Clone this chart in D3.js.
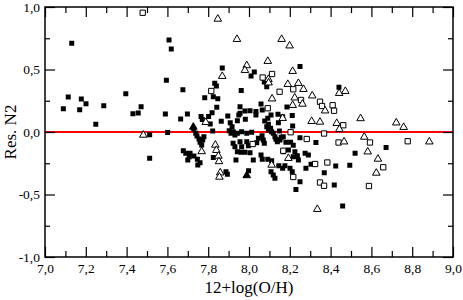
<!DOCTYPE html>
<html>
<head>
<meta charset="utf-8">
<script src="https://cdn.jsdelivr.net/npm/d3@7"></script>
<style>
  body { margin: 0; background: #fff; }
  svg { display: block; font-family: "Liberation Serif", "Times New Roman", serif; }
</style>
</head>
<body>
<svg width="463" height="300"></svg>
<script>
// tick values and labels
const xMajor = [7.0, 7.2, 7.4, 7.6, 7.8, 8.0, 8.2, 8.4, 8.6, 8.8, 9.0];
const xMinor = [7.1, 7.3, 7.5, 7.7, 7.9, 8.1, 8.3, 8.5, 8.7, 8.9];
const xTickLabels = ["7,0", "7,2", "7,4", "7,6", "7,8", "8,0", "8,2", "8,4", "8,6", "8,8", "9,0"];
const yMajor = [-1.0, -0.5, 0.0, 0.5, 1.0];
const yMinor = [-0.75, -0.25, 0.25, 0.75];
const yTickLabels = ["-1,0", "-0,5", "0,0", "0,5", "1,0"];

// [12+log(O/H), Res. N2]
const filledSquares = [
  [7.131,0.710],[7.114,0.280],[7.090,0.186],[7.178,0.264],[7.170,0.178],[7.201,0.226],[7.249,0.062],
  [7.288,0.210],[7.396,0.306],[7.431,0.146],[7.457,0.152],[7.471,0.202],[7.513,-0.022],[7.513,-0.210],
  [7.608,0.736],[7.619,0.664],[7.869,0.512],[7.595,0.414],[7.676,0.338],[7.832,0.390],[7.840,0.368],
  [7.783,0.274],[7.825,0.282],[7.847,0.266],[8.026,0.480],[8.010,0.448],[8.250,0.524],[8.075,0.400],
  [8.087,0.362],[7.962,0.332],[8.441,0.358],[7.842,0.198],[7.819,0.154],[7.590,0.144],[7.665,0.104],
  [7.698,0.144],[7.765,0.124],[7.771,0.100],[7.802,0.124],[7.810,0.064],[7.864,0.086],[7.896,0.128],
  [7.908,0.074],[7.917,0.042],[7.943,0.090],[7.956,0.202],[7.950,0.136],[7.980,0.168],[8.005,0.170],
  [8.034,0.164],[8.059,0.224],[8.065,0.176],[8.034,0.136],[8.108,0.136],[8.092,0.110],[8.142,0.142],
  [8.165,0.122],[8.212,0.132],[8.186,0.200],[8.077,0.088],[8.095,0.062],[8.144,0.074],[8.214,0.048],
  [7.982,0.102],[7.601,-0.004],[7.956,0.150],[7.729,0.022],[7.739,-0.010],[7.745,-0.032],[7.755,-0.056],
  [7.760,-0.082],[7.768,-0.104],[7.773,-0.064],[7.779,-0.038],[7.822,0.008],[7.903,0.010],[7.943,-0.010],
  [7.964,0.002],[7.989,-0.010],[8.013,-0.002],[8.087,0.042],[8.095,0.016],[8.106,0.030],[8.111,0.002],
  [8.119,-0.010],[8.127,-0.038],[8.132,-0.058],[8.139,-0.078],[8.152,-0.064],[8.158,-0.042],[8.149,0.008],
  [8.168,-0.038],[8.181,-0.082],[8.204,-0.082],[8.217,-0.106],[8.064,-0.030],[8.070,-0.064],[8.075,-0.090],
  [7.956,-0.078],[7.989,-0.078],[7.997,-0.110],[8.038,-0.086],[8.046,-0.050],[8.250,-0.046],[8.328,-0.084],
  [8.193,-0.144],[8.225,-0.158],[8.237,-0.190],[8.275,-0.170],[8.291,-0.184],[7.961,-0.162],[7.980,-0.162],
  [8.059,-0.184],[8.065,-0.218],[8.092,-0.218],[8.021,-0.224],[8.111,-0.230],[8.146,-0.270],[8.165,-0.290],
  [8.176,-0.270],[8.201,-0.290],[8.212,-0.318],[8.250,-0.398],[8.230,-0.460],[8.304,-0.258],[8.279,-0.290],
  [8.369,-0.326],[7.998,-0.310],[8.108,-0.318],[8.119,-0.344],[8.127,-0.370],[7.678,-0.150],[7.690,-0.170],
  [7.711,-0.170],[7.707,-0.198],[7.700,-0.224],[7.730,-0.192],[7.747,-0.218],[7.760,-0.246],[7.749,-0.264],
  [7.825,-0.204],[7.887,-0.318],[7.894,-0.338],[7.922,-0.090],[7.931,-0.118],[7.943,-0.158],[7.936,-0.224],
  [7.964,-0.118],[8.005,-0.166],[8.168,-0.158],[8.217,-0.198],[8.242,-0.224],[8.520,-0.170],[8.672,-0.124],
  [8.425,-0.272],[8.494,-0.266],[8.418,-0.424],[8.459,-0.592],[7.912,-0.010],[7.923,0.002],[7.931,-0.024]
];

const openSquares = [
  [7.479,0.954],[7.815,0.328],[8.067,0.436],[8.113,0.464],[8.150,0.322],[8.217,0.342],[8.255,0.256],
  [8.092,0.190],[8.348,0.242],[8.358,0.208],[8.410,0.214],[8.417,0.170],[8.462,0.054],[8.368,-0.012],
  [8.283,-0.056],[8.439,-0.084],[8.593,-0.084],[8.778,-0.074],[8.204,-0.002],[8.018,-0.096],[8.168,-0.150],
  [8.217,-0.360],[8.324,-0.256],[8.384,-0.244],[8.658,-0.282],[8.588,-0.432],[8.348,-0.404],[8.368,-0.430]
];

const openTriangles = [
  [7.482,-0.024],[7.847,0.904],[7.941,0.742],[8.160,0.742],[8.199,0.690],[8.092,0.566],[7.989,0.532],
  [7.980,0.494],[8.214,0.486],[7.869,0.446],[8.095,0.422],[8.096,0.394],[8.190,0.382],[8.242,0.390],
  [8.267,0.342],[8.113,0.266],[8.224,0.274],[8.262,0.224],[8.214,0.214],[8.310,0.290],[8.373,0.170],
  [8.442,0.310],[8.472,0.326],[8.307,0.086],[8.348,0.080],[8.430,0.070],[8.443,0.022],[8.547,0.108],
  [8.722,0.074],[8.758,0.038],[8.165,0.110],[7.788,0.078],[8.466,-0.078],[8.565,-0.040],[8.884,-0.078],
  [8.582,-0.158],[8.632,-0.216],[8.624,-0.328],[8.335,-0.618],[7.768,-0.156],[7.835,-0.104],[7.840,-0.146],
  [7.850,-0.192],[7.853,-0.236],[7.859,-0.326],[7.855,-0.360],[8.193,-0.210],[8.111,-0.264]
];

const filledTriangles = [[7.727,0.040],[7.989,-0.348]];

const svg = d3.select("svg");
const margin = {top: 7, right: 10, bottom: 43, left: 45};
const W = 463 - margin.left - margin.right;
const H = 300 - margin.top - margin.bottom;
const g = svg.append("g").attr("transform", `translate(${margin.left},${margin.top})`);

const x = d3.scaleLinear().domain([7, 9]).range([0, W]);
const y = d3.scaleLinear().domain([-1, 1]).range([H, 0]);

// zero line
g.append("line")
  .attr("x1", 0).attr("x2", W)
  .attr("y1", y(0)).attr("y2", y(0))
  .attr("stroke", "#ff0000").attr("stroke-width", 2);

// points
const sq = d3.symbol().type(d3.symbolSquare);
const tri = d3.symbol().type(d3.symbolTriangle);

g.selectAll(".fs").data(filledSquares).enter().append("path")
  .attr("class", "fs")
  .attr("d", sq.size(25)())
  .attr("transform", d => `translate(${x(d[0])},${y(d[1])})`)
  .attr("fill", "#000");

g.selectAll(".os").data(openSquares).enter().append("path")
  .attr("class", "os")
  .attr("d", sq.size(28)())
  .attr("transform", d => `translate(${x(d[0])},${y(d[1])})`)
  .attr("fill", "#fff").attr("stroke", "#000").attr("stroke-width", 1);

g.selectAll(".ot").data(openTriangles).enter().append("path")
  .attr("class", "ot")
  .attr("d", tri.size(25)())
  .attr("transform", d => `translate(${x(d[0])},${y(d[1])})`)
  .attr("fill", "#fff").attr("stroke", "#000").attr("stroke-width", 1);

g.selectAll(".ft").data(filledTriangles).enter().append("path")
  .attr("class", "ft")
  .attr("d", tri.size(25)())
  .attr("transform", d => `translate(${x(d[0])},${y(d[1])})`)
  .attr("fill", "#000").attr("stroke", "#000").attr("stroke-width", 1);

// axes, ticks pointing inward
function styleAxis(sel) {
  sel.select(".domain").remove();
  sel.selectAll("line").attr("stroke", "#000").attr("stroke-width", 1.2);
  sel.selectAll("text").attr("font-size", 13.5).attr("fill", "#000")
    .attr("font-family", "Liberation Serif, Times New Roman, serif");
}

g.append("g").attr("transform", `translate(0,${H})`)
  .call(d3.axisBottom(x).tickValues(xMajor).tickSize(-10).tickPadding(6)
    .tickFormat((d, i) => xTickLabels[i]))
  .call(styleAxis);
g.append("g").attr("transform", `translate(0,${H})`)
  .call(d3.axisBottom(x).tickValues(xMinor).tickSize(-6).tickFormat(""))
  .call(styleAxis);
g.append("g")
  .call(d3.axisTop(x).tickValues(xMajor).tickSize(-10).tickFormat(""))
  .call(styleAxis);
g.append("g")
  .call(d3.axisTop(x).tickValues(xMinor).tickSize(-6).tickFormat(""))
  .call(styleAxis);

g.append("g")
  .call(d3.axisLeft(y).tickValues(yMajor).tickSize(-10).tickPadding(5)
    .tickFormat((d, i) => yTickLabels[i]))
  .call(styleAxis);
g.append("g")
  .call(d3.axisLeft(y).tickValues(yMinor).tickSize(-5).tickFormat(""))
  .call(styleAxis);
g.append("g").attr("transform", `translate(${W},0)`)
  .call(d3.axisRight(y).tickValues(yMajor).tickSize(-10).tickFormat(""))
  .call(styleAxis);
g.append("g").attr("transform", `translate(${W},0)`)
  .call(d3.axisRight(y).tickValues(yMinor).tickSize(-5).tickFormat(""))
  .call(styleAxis);

// frame
g.append("rect")
  .attr("width", W).attr("height", H)
  .attr("fill", "none").attr("stroke", "#000").attr("stroke-width", 1.5);

// axis titles
svg.append("text")
  .attr("x", margin.left + W / 2).attr("y", 293)
  .attr("text-anchor", "middle").attr("font-size", 17)
  .text("12+log(O/H)");

svg.append("text")
  .attr("transform", `translate(16,${margin.top + H / 2}) rotate(-90)`)
  .attr("text-anchor", "middle").attr("font-size", 17)
  .text("Res. N2");
</script>
</body>
</html>
